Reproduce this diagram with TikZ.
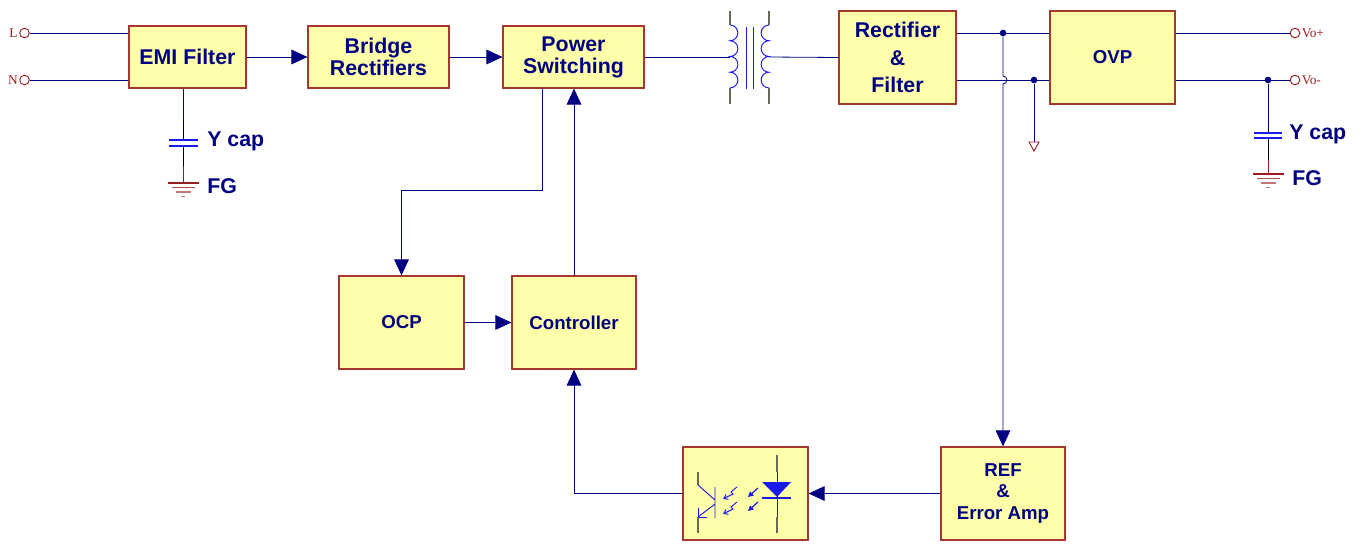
\documentclass[tikz,border=0pt]{standalone}
\usepackage{fontspec}
\setsansfont{Liberation Sans}
\newfontfamily\termfont{Liberation Serif}
\usetikzlibrary{arrows.meta,calc}
\definecolor{boxyellow}{RGB}{255,255,170}
\definecolor{boxred}{RGB}{165,55,45}
\definecolor{navyblue}{RGB}{0,0,128}
\definecolor{termred}{RGB}{150,30,30}
\definecolor{symblue}{RGB}{25,25,235}
\definecolor{leadgray}{RGB}{105,105,85}

\begin{document}
\begin{tikzpicture}[x=0.75pt,y=-0.75pt,
    blk/.style={draw=boxred, fill=boxyellow, line width=0.9pt, text=navyblue, inner sep=0pt, align=center},
    big/.style={font=\sffamily\bfseries\fontsize{16}{16.5}\selectfont},
    small/.style={font=\sffamily\bfseries\fontsize{14}{16}\selectfont},
    lbl/.style={text=navyblue, inner sep=0pt, font=\sffamily\bfseries\fontsize{16}{16}\selectfont},
    wire/.style={navyblue, line width=0.6pt},
    arr/.style={wire, -{Triangle[length=12pt,width=11pt]}},
    term/.style={circle, draw=termred, fill=white, inner sep=0pt, minimum size=7.2pt, line width=0.7pt},
    tlbl/.style={text=termred, inner sep=1pt, font=\termfont\fontsize{10}{10}\selectfont},
    dot/.style={circle, fill=navyblue, inner sep=0pt, minimum size=5pt}]

\useasboundingbox (0,0) rectangle (1363,543);

% blocks
\node[blk, big, minimum width=87.75pt, minimum height=46.5pt] (emi) at (187.5,57) {EMI Filter};
\node[blk, big, minimum width=105.75pt, minimum height=46.5pt] (brg) at (378.5,57) {Bridge\\Rectifiers};
\node[blk, big, minimum width=105.75pt, minimum height=46.5pt] (psw) at (573.5,57) {Power\\Switching};
\node[blk, font=\sffamily\bfseries\fontsize{16}{20.5}\selectfont, minimum width=87.75pt, minimum height=69.75pt] (rec) at (897.5,57.5) {Rectifier\\\&\\Filter};
\node[blk, small, minimum width=93.75pt, minimum height=69.75pt] (ovp) at (1112.5,57.5) {OVP};
\node[blk, small, minimum width=93.75pt, minimum height=69.75pt] (ocp) at (401.5,322.5) {OCP};
\node[blk, small, minimum width=93pt, minimum height=69.75pt] (ctl) at (574,322.5) {Controller};
\node[blk, minimum width=93.75pt, minimum height=69.75pt] (opto) at (745.5,493.5) {};
\node[blk, small, minimum width=93pt, minimum height=69.75pt] (ref) at (1003,493.5) {REF\\\&\\Error Amp};

% terminals
\node[term] (tL) at (24.5,33) {};
\node[term] (tN) at (24.5,80) {};
\node[tlbl, anchor=east] (lL) at (tL.west) {L};
\node[tlbl, anchor=east] (lN) at (tN.west) {N};
\node[term] (tVp) at (1295,33) {};
\node[term] (tVn) at (1295,80) {};
\node[tlbl, anchor=west] (lVp) at (tVp.east) {Vo+};
\node[tlbl, anchor=west] (lVn) at (tVn.east) {Vo-};

% input side
\draw[wire] (tL) -- (tL -| emi.west);
\draw[wire] (tN) -- (tN -| emi.west);
\draw[arr] (emi) -- (brg);
\draw[arr] (brg) -- (psw);

% transformer
\coordinate (tp) at (730,57);
\coordinate (ts) at (769,57);
\draw[wire] (psw.east) -- (tp);
\draw[wire] (ts) -- (rec.west);
\draw[leadgray, line width=0.9pt] (730,11) -- (730,25) (730,88) -- (730,104);
\draw[leadgray, line width=0.9pt] (769,11) -- (769,25) (769,88) -- (769,104);
\draw[symblue, line width=0.7pt] (730,25) arc(90:-90:5.9pt) arc(90:-90:5.9pt) arc(90:-90:5.9pt) arc(90:-90:5.9pt);
\draw[symblue, line width=0.7pt] (769,25) arc(90:270:5.9pt) arc(90:270:5.9pt) arc(90:270:5.9pt) arc(90:270:5.9pt);
\draw[symblue, line width=0.7pt] (746,27) -- (746,89) (753,27) -- (753,89);

% output rails
\node[dot] (d1) at (1003,33) {};
\node[dot] (d2) at (1034,80) {};
\node[dot] (d3) at (1268,80) {};
\coordinate (hop) at (1003,76);
\coordinate (gnd2) at (1034,142);
\draw[wire] (rec.east |- d1) -- (ovp.west |- d1);
\draw[wire] (rec.east |- d2) -- (ovp.west |- d2);
\draw[wire] (ovp.east |- tVp) -- (tVp);
\draw[wire] (ovp.east |- tVn) -- (tVn);
\draw[arr] (d1) -- (hop) arc(90:-90:3pt) -- (ref.north);
\draw[wire] (d2) -- (gnd2);
\draw[termred, line width=0.7pt] ($(gnd2)+(-5,0)$) -- ($(gnd2)+(5,0)$) -- ($(gnd2)+(0,9)$) -- cycle;

% Y caps
\coordinate (cp1) at (183,143);
\coordinate (cp2) at (1268,135.5);
\draw[wire] (emi.south -| cp1) -- (183,121);
\draw[black, line width=0.7pt] (183,121) -- (183,140) (183,146) -- (183,166);
\draw[symblue, line width=0.9pt] (169,140) -- (198,140) (169,146) -- (198,146);
\draw[termred, line width=0.7pt] (183,166) -- (183,183);
\foreach \w/\d/\c in {15.5/0/termred, 11.5/4.5/termred!80, 7.5/9/termred!60, 2/13.5/termred!60}
  \draw[\c, line width=0.8pt] (183-\w,183+\d) -- (183+\w,183+\d);
\draw[wire] (d3) -- (1268,127);
\draw[black, line width=0.7pt] (1268,127) -- (1268,133) (1268,138) -- (1268,160);
\draw[symblue, line width=0.9pt] (1254,133) -- (1282,133) (1254,138) -- (1282,138);
\draw[termred, line width=0.7pt] (1268,160) -- (1268,174);
\foreach \w/\d/\c in {15.5/0/termred, 11.5/4.5/termred!80, 7.5/9/termred!60, 2/13.5/termred!60}
  \draw[\c, line width=0.8pt] (1268-\w,174+\d) -- (1268+\w,174+\d);
\node[lbl, anchor=west] (yc1) at (207,141) {Y cap};
\node[lbl, anchor=west] (fg1) at (207,186) {FG};
\node[lbl, anchor=west] (yc2) at (1289,134) {Y cap};
\node[lbl, anchor=west] (fg2) at (1292,178) {FG};

% control loop
\draw[arr] ($(psw.south west)!0.28!(psw.south east)$) -- ++(0,102) -| (ocp.north);
\draw[arr] (ctl.north) -- (ctl.north |- psw.south);
\draw[arr] (ocp.east) -- (ocp.east -| ctl.west);
\draw[arr] (opto.west) -| (ctl.south);
\draw[arr] (ref.west) -- (opto.east);

% optocoupler
\draw[leadgray, line width=0.9pt] (777,455) -- (777,472) (777,517) -- (777,533);
\draw[symblue, line width=0.7pt] (777,472) -- (777,517);
\fill[symblue] (762,482) -- (791,482) -- (777,497) -- cycle;
\draw[symblue, line width=2.2pt] (762,498) -- (791,498);
\draw[symblue, line width=0.9pt, -{Triangle[length=4pt,width=4pt]}] (758,488) -- (748,497);
\draw[symblue, line width=0.9pt, -{Triangle[length=4pt,width=4pt]}] (758,502) -- (748,511);
\draw[leadgray, line width=0.9pt] (698,472) -- (698,485) (698,517) -- (698,533);
\draw[symblue, line width=0.7pt] (698,485) -- (715,500) (715,487) -- (715,518) (715,504) -- (698,517);
\draw[symblue, line width=0.7pt] (698,508) -- (698,517) -- (707,517);
\draw[symblue, line width=0.7pt, -{Straight Barb[length=3pt,width=4pt]}] (737,487) -- (731,492) -- (733,494) -- (723,499);
\draw[symblue, line width=0.7pt, -{Straight Barb[length=3pt,width=4pt]}] (737,502) -- (731,507) -- (733,509) -- (723,514);

\end{tikzpicture}
\end{document}
